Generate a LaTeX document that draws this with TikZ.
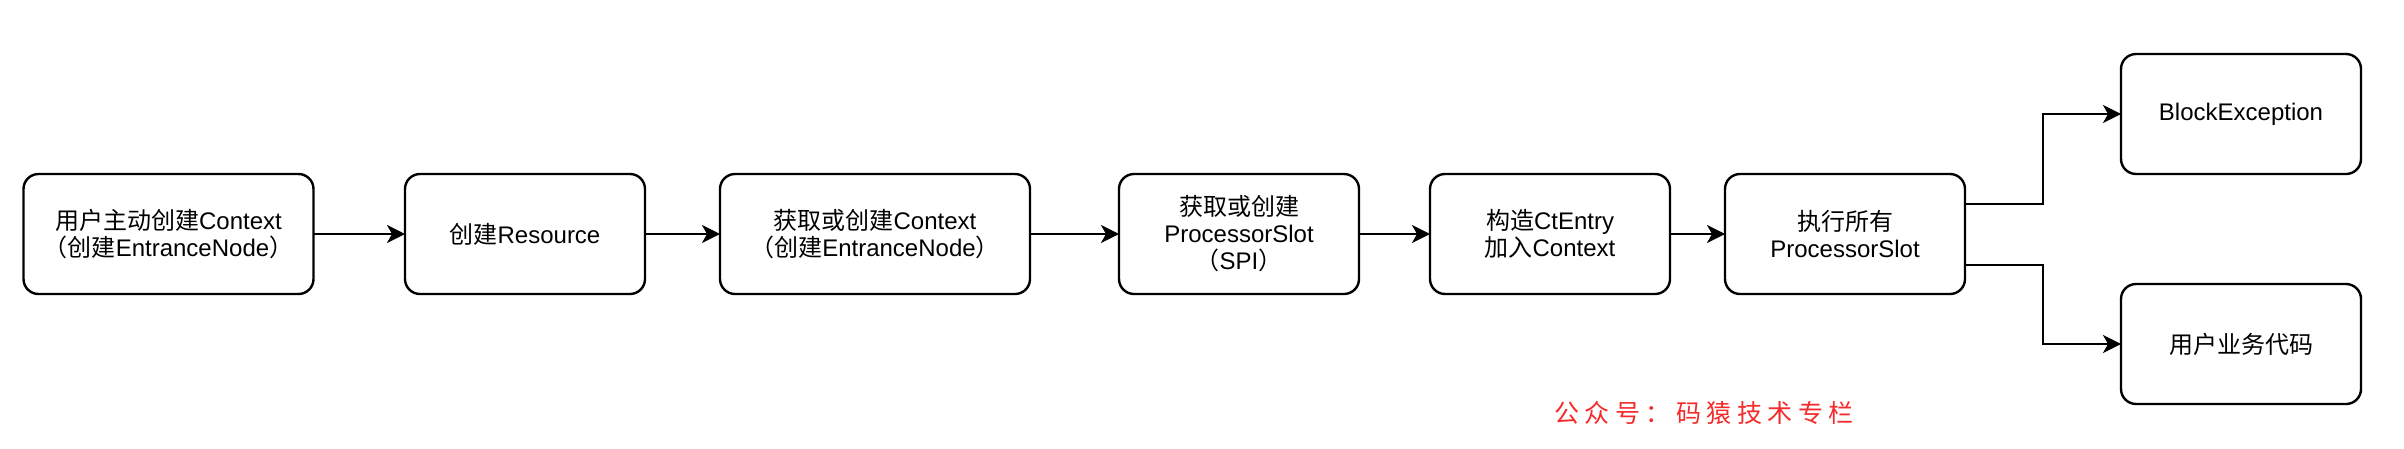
\documentclass[tikz,border=0pt]{standalone}
\usepackage{fontspec}
\setmainfont{Liberation Sans}
\newfontfamily\cjk{Noto Sans CJK SC}
\usetikzlibrary{arrows.meta}
\definecolor{wmred}{HTML}{F52A2A}
\tikzset{
  box/.style={draw=black, line width=2.4pt, rounded corners=15pt, fill=white,
    minimum height=120pt, minimum width=240pt, align=center, outer sep=0pt,
    font=\fontsize{24}{27}\selectfont, inner sep=0pt},
  arr/.style={draw=black, line width=2.4pt,
    -{Stealth[length=18pt, width=18pt, inset=5pt]}},
  wm/.style={text=wmred, font=\cjk\fontsize{25}{28}\selectfont, inner sep=0pt}
}
\newcommand{\wsp}{\hspace{5.5pt}}
\begin{document}
\begin{tikzpicture}[x=1pt,y=-1pt]
\useasboundingbox (0,0) rectangle (2404,448);
\fill[white] (0,0) rectangle (2404,448);

\node[box, minimum width=290pt] (b1) at (168.5,234) {{\cjk 用户主动创建}Context\\{\cjk （创建}EntranceNode{\cjk ）}};
\node[box] (b2) at (525,234) {{\cjk 创建}Resource};
\node[box, minimum width=310pt] (b3) at (875,234) {{\cjk 获取或创建}Context\\{\cjk （创建}EntranceNode{\cjk ）}};
\node[box] (b4) at (1239,234) {{\cjk 获取或创建}\\ProcessorSlot\\{\cjk （}SPI{\cjk ）}};
\node[box] (b5) at (1550,234) {{\cjk 构造}CtEntry\\{\cjk 加入}Context};
\node[box] (b6) at (1845,234) {{\cjk 执行所有}\\ProcessorSlot};
\node[box] (be) at (2241,114) {BlockException};
\node[box] (ub) at (2241,344) {{\cjk 用户业务代码}};

\draw[arr] (b1) -- (b2);
\draw[arr] (b2) -- (b3);
\draw[arr] (b3) -- (b4);
\draw[arr] (b4) -- (b5);
\draw[arr] (b5) -- (b6);
\draw[arr] ([yshift=30pt]b6.east) -- ++(78,0) |- (be.west);
\draw[arr] ([yshift=-31pt]b6.east) -- ++(78,0) |- (ub.west);

\node[wm] (wm) at (1704,413) {公\wsp 众\wsp 号\wsp ：\wsp 码\wsp 猿\wsp 技\wsp 术\wsp 专\wsp 栏};
\end{tikzpicture}
\end{document}
